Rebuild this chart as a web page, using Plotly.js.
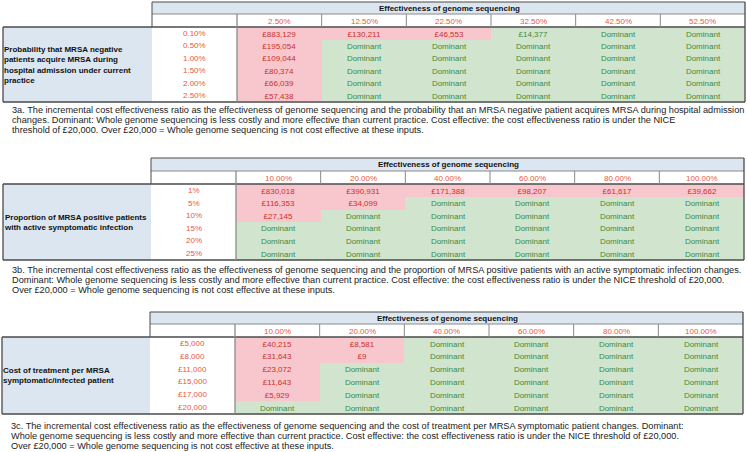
<!DOCTYPE html>
<html><head><meta charset="utf-8">
<script src="https://cdn.plot.ly/plotly-3.0.1.min.js"></script>
<style>html,body{margin:0;padding:0;background:#fff}#chart{width:747px;height:452px}</style>
</head><body><div id="chart"></div>
<script>
// ---------- DATA ----------
const headerTitle = 'Effectiveness of genome sequencing';

const colsA = ['2.50%','12.50%','22.50%','32.50%','42.50%','52.50%'];
const rowsA = ['0.10%','0.50%','1.00%','1.50%','2.00%','2.50%'];
const valsA = [
  ['£883,129','£130,211','£46,553','£14,377','Dominant','Dominant'],
  ['£195,054','Dominant','Dominant','Dominant','Dominant','Dominant'],
  ['£109,044','Dominant','Dominant','Dominant','Dominant','Dominant'],
  ['£80,374','Dominant','Dominant','Dominant','Dominant','Dominant'],
  ['£66,039','Dominant','Dominant','Dominant','Dominant','Dominant'],
  ['£57,438','Dominant','Dominant','Dominant','Dominant','Dominant']
];
const overA = [
  [1,1,1,0,0,0],[1,0,0,0,0,0],[1,0,0,0,0,0],[1,0,0,0,0,0],[1,0,0,0,0,0],[1,0,0,0,0,0]
];
const labelA = 'Probability that MRSA negative<br>patients acquire MRSA during<br>hospital admission under current<br>practice';
const captionA = [
  '3a. The incremental cost effectiveness ratio as the effectiveness of genome sequencing and the probability that an MRSA negative patient acquires MRSA during hospital admission',
  'changes. Dominant: Whole genome sequencing is less costly and more effective than current practice. Cost effective: the cost effectiveness ratio is under the NICE',
  'threshold of £20,000. Over £20,000 = Whole genome sequencing is not cost effective at these inputs.'
];

const colsB = ['10.00%','20.00%','40.00%','60.00%','80.00%','100.00%'];
const rowsB = ['1%','5%','10%','15%','20%','25%'];
const valsB = [
  ['£830,018','£390,931','£171,388','£98,207','£61,617','£39,662'],
  ['£116,353','£34,099','Dominant','Dominant','Dominant','Dominant'],
  ['£27,145','Dominant','Dominant','Dominant','Dominant','Dominant'],
  ['Dominant','Dominant','Dominant','Dominant','Dominant','Dominant'],
  ['Dominant','Dominant','Dominant','Dominant','Dominant','Dominant'],
  ['Dominant','Dominant','Dominant','Dominant','Dominant','Dominant']
];
const overB = [
  [1,1,1,1,1,1],[1,1,0,0,0,0],[1,0,0,0,0,0],[0,0,0,0,0,0],[0,0,0,0,0,0],[0,0,0,0,0,0]
];
const labelB = 'Proportion of MRSA positive patients<br>with active symptomatic infection';
const captionB = [
  '3b. The incremental cost effectiveness ratio as the effectiveness of genome sequencing and the proportion of MRSA positive patients with an active symptomatic infection changes.',
  'Dominant: Whole genome sequencing is less costly and more effective than current practice. Cost effective: the cost effectiveness ratio is under the NICE threshold of £20,000.',
  'Over £20,000 = Whole genome sequencing is not cost effective at these inputs.'
];

const colsC = ['10.00%','20.00%','40.00%','60.00%','80.00%','100.00%'];
const rowsC = ['£5,000','£8,000','£11,000','£15,000','£17,000','£20,000'];
const valsC = [
  ['£40,215','£8,581','Dominant','Dominant','Dominant','Dominant'],
  ['£31,643','£9','Dominant','Dominant','Dominant','Dominant'],
  ['£23,072','Dominant','Dominant','Dominant','Dominant','Dominant'],
  ['£11,643','Dominant','Dominant','Dominant','Dominant','Dominant'],
  ['£5,929','Dominant','Dominant','Dominant','Dominant','Dominant'],
  ['Dominant','Dominant','Dominant','Dominant','Dominant','Dominant']
];
const overC = [
  [1,1,0,0,0,0],[1,1,0,0,0,0],[1,0,0,0,0,0],[1,0,0,0,0,0],[1,0,0,0,0,0],[0,0,0,0,0,0]
];
const labelC = 'Cost of treatment per MRSA<br>symptomatic/infected patient';
const captionC = [
  '3c. The incremental cost effectiveness ratio as the effectiveness of genome sequencing and the cost of treatment per MRSA symptomatic patient changes. Dominant:',
  'Whole genome sequencing is less costly and more effective than current practice. Cost effective: the cost effectiveness ratio is under the NICE threshold of £20,000.',
  'Over £20,000 = Whole genome sequencing is not cost effective at these inputs.'
];

// ---------- STYLE / GEOMETRY ----------
const W = 747, H = 452;
const FONT = 'Liberation Sans, Arial, sans-serif';
const CAPFONT = 'Liberation Sans, Arial, sans-serif';
const BLUE = '#dce6f1', PINK = '#f8c7cd', GREEN = '#d1e5ce';
const RED = '#e9573f', DARKRED = '#c9302c', DGREEN = '#3d8b3d', BORDER = '#4a4a4a', SEP = '#8a8a8a';

const geo = [
  {top:2,   hdr:14,  colHdr:27,  bottom:102, left:3, valL:152, dataL:237, right:745, capX:12, capY:[110,120,130]},
  {top:158, hdr:171, colHdr:184, bottom:260, left:3, valL:151, dataL:236, right:744, capX:12, capY:[270,280,290]},
  {top:312, hdr:324, colHdr:337, bottom:414, left:2, valL:150, dataL:235, right:743, capX:11, capY:[426,436,446]}
];
const tables = [
  {cols:colsA, rows:rowsA, vals:valsA, over:overA, label:labelA, caption:captionA},
  {cols:colsB, rows:rowsB, vals:valsB, over:overB, label:labelB, caption:captionB},
  {cols:colsC, rows:rowsC, vals:valsC, over:overC, label:labelC, caption:captionC}
];

const fx = v => v / W;
const fy = v => 1 - v / H;

const traces = [], shapes = [], annotations = [];
const layout = {
  width: W, height: H, margin: {l:0, r:0, t:0, b:0},
  paper_bgcolor: '#fff', plot_bgcolor: 'rgba(0,0,0,0)',
  showlegend: false, font: {family: FONT, size: 8}
};

function line(x0,y0,x1,y1,color,width){
  shapes.push({type:'line', xref:'paper', yref:'paper', x0:fx(x0), y0:fy(y0), x1:fx(x1), y1:fy(y1),
    line:{color:color, width:width}, layer:'above'});
}
function rect(x0,y0,x1,y1,fill){
  shapes.push({type:'rect', xref:'paper', yref:'paper', x0:fx(x0), y0:fy(y0), x1:fx(x1), y1:fy(y1),
    fillcolor:fill, line:{width:0}, layer:'below'});
}

tables.forEach((t, i) => {
  const g = geo[i];
  const n = i === 0 ? '' : String(i + 1);
  const xa = 'x' + n, ya = 'y' + n;
  layout['xaxis' + n] = {domain:[fx(g.dataL), fx(g.right)], anchor: ya, type:'category',
    showgrid:false, zeroline:false, showticklabels:false, ticks:'', fixedrange:true, categoryarray:t.cols, categoryorder:'array'};
  layout['yaxis' + n] = {domain:[fy(g.bottom), fy(g.colHdr)], anchor: xa, type:'category',
    autorange:'reversed', showgrid:false, zeroline:false, showticklabels:false, ticks:'', fixedrange:true,
    categoryarray:t.rows, categoryorder:'array'};

  const zPink = t.over.map(r => r.map(v => v ? 1 : null));
  const txtPink = t.vals.map((r, ri) => r.map((v, ci) => t.over[ri][ci] ? v : ''));
  const zGreen = t.over.map(r => r.map(v => v ? null : 1));
  const txtGreen = t.vals.map((r, ri) => r.map((v, ci) => t.over[ri][ci] ? '' : v));
  traces.push({type:'heatmap', x:t.cols, y:t.rows, z:zPink, text:txtPink, texttemplate:'%{text}',
    textfont:{family:FONT, size:8, color:DARKRED}, colorscale:[[0,PINK],[1,PINK]], zmin:0, zmax:1,
    showscale:false, hoverinfo:'skip', xaxis:xa, yaxis:ya, xgap:0, ygap:0});
  traces.push({type:'heatmap', x:t.cols, y:t.rows, z:zGreen, text:txtGreen, texttemplate:'%{text}',
    textfont:{family:FONT, size:8, color:DGREEN}, colorscale:[[0,GREEN],[1,GREEN]], zmin:0, zmax:1,
    showscale:false, hoverinfo:'skip', xaxis:xa, yaxis:ya, xgap:0, ygap:0});

  rect(g.valL, g.top, g.right, g.hdr, BLUE);
  rect(g.left, g.colHdr, g.valL, g.bottom, BLUE);

  annotations.push({xref:'paper', yref:'paper', x:fx(g.dataL + 140), y:fy((g.top + g.hdr) / 2),
    xanchor:'left', yanchor:'middle', showarrow:false, text:'<b>' + headerTitle + '</b>',
    font:{family:FONT, size:8, color:'#111'}});
  t.cols.forEach(c => annotations.push({xref:xa, yref:'paper', x:c, y:fy((g.hdr + g.colHdr) / 2 + 0.5),
    xanchor:'center', yanchor:'middle', showarrow:false, text:c, font:{family:FONT, size:8, color:RED}}));
  t.rows.forEach(r => annotations.push({xref:'paper', yref:ya, x:fx((g.valL + g.dataL) / 2), y:r,
    xanchor:'center', yanchor:'middle', showarrow:false, text:r, font:{family:FONT, size:8, color:RED}}));
  annotations.push({xref:'paper', yref:'paper', x:fx(g.left - 1), y:fy((g.colHdr + g.bottom) / 2),
    xanchor:'left', yanchor:'middle', align:'left', showarrow:false, text:'<b>' + t.label + '</b>',
    font:{family:FONT, size:8, color:'#111'}});
  t.caption.forEach((c, k) => annotations.push({xref:'paper', yref:'paper', x:fx(g.capX - 2.5), y:fy(g.capY[k]),
    xanchor:'left', yanchor:'middle', align:'left', showarrow:false, text:c,
    font:{family:CAPFONT, size:9.2, color:'#222'}}));

  const colW = (g.right - g.dataL) / t.cols.length;
  line(g.valL, g.top, g.right, g.top, BORDER, 1);
  line(g.valL, g.hdr, g.right, g.hdr, SEP, 1);
  line(g.valL, g.top, g.valL, g.colHdr, BORDER, 1);
  line(g.right, g.top, g.right, g.bottom, BORDER, 1.3);
  line(g.left, g.colHdr, g.right, g.colHdr, BORDER, 1.3);
  line(g.left, g.colHdr, g.left, g.bottom, BORDER, 1.3);
  line(g.left, g.bottom, g.right, g.bottom, BORDER, 1.6);
  line(g.dataL, g.hdr, g.dataL, g.bottom, SEP, 1.3);
  for (let k = 1; k < t.cols.length; k++) {
    const xx = g.dataL + k * colW;
    line(xx, g.hdr, xx, g.colHdr, SEP, 1);
  }
});

layout.shapes = shapes;
layout.annotations = annotations;
Plotly.newPlot('chart', traces, layout, {displayModeBar:false, staticPlot:true});
</script></body></html>
